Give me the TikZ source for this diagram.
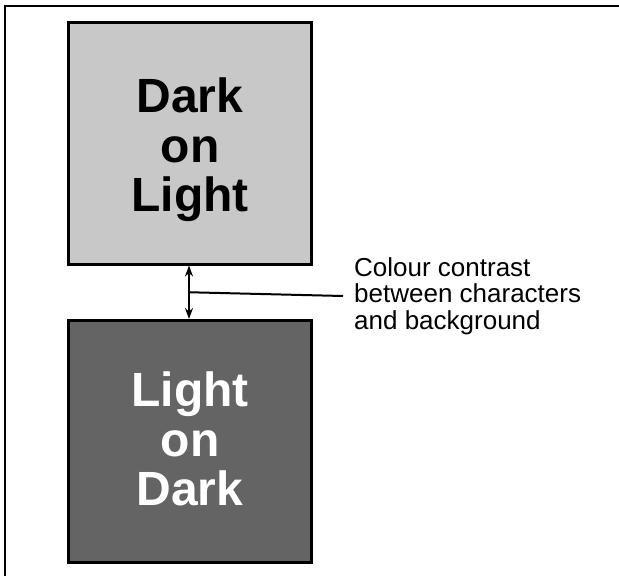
\documentclass[tikz,border=0pt]{standalone}
\usepackage{fontspec}
\setmainfont{Liberation Sans}
\usetikzlibrary{arrows.meta,calc}
\definecolor{lightfill}{RGB}{200,200,200}
\definecolor{darkfill}{RGB}{100,100,100}
\tikzset{
    >={Stealth[length=11pt,width=8pt]},
    panel/.style={rectangle, draw, line width=3pt, minimum width=243pt, minimum height=242pt, inner sep=0pt},
    bigtext/.style={align=center, inner sep=0pt, font=\bfseries\fontsize{48}{49.5}\selectfont},
    note/.style={align=left, inner sep=0pt, font=\fontsize{26}{26.5}\selectfont}
}

\begin{document}
\begin{tikzpicture}[x=1pt, y=-1pt]
    \useasboundingbox (0,0) rectangle (619,576);
    % frame
    \draw[line width=2pt] (619,6) -- (5,6) -- (5,576);

    \node[panel, fill=lightfill] (lightbox) at (190,143) {};
    \node[panel, fill=darkfill] (darkbox) at (190,441.5) {};
    \node[bigtext] (lighttext) at (190,150) {Dark\\on\\Light};
    \node[bigtext, text=white] (darktext) at (190,439) {Light\\on\\Dark};

    \node[note, anchor=west] (contrast) at (354,296) {Colour contrast\\between characters\\and background};

    \draw[<->, line width=2pt] ([xshift=-1pt]lightbox.south) -- ([xshift=-1pt]darkbox.north);
    \coordinate (mid) at ($([xshift=-1pt]lightbox.south)!0.5!([xshift=-1pt]darkbox.north)$);
    \draw[line width=2pt] (mid) -- ([xshift=-11pt]contrast.west);
\end{tikzpicture}
\end{document}
